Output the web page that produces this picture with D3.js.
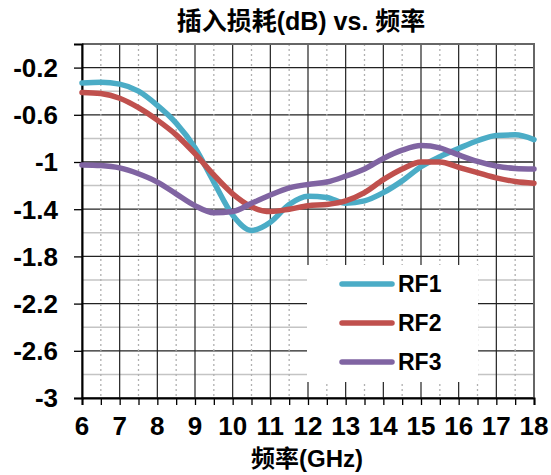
<!DOCTYPE html>
<html>
<head>
<meta charset="utf-8">
<script src="https://cdn.jsdelivr.net/npm/d3@7"></script>
<style>
  body { margin: 0; background: #fff; }
  svg text { font-family: "Liberation Sans", Arial, "Noto Sans CJK SC", sans-serif; font-weight: bold; fill: #000; }
</style>
</head>
<body>
<div id="chart"></div>
<script>
// Data
const freqs = [6, 6.5, 7, 7.5, 8, 8.5, 9, 9.5, 10, 10.5, 11, 11.5, 12, 12.5, 13, 13.5, 14, 14.5, 15, 15.5, 16, 16.5, 17, 17.5, 18];
const rf1 = [-0.33, -0.325, -0.34, -0.40, -0.52, -0.67, -0.88, -1.17, -1.45, -1.58, -1.51, -1.36, -1.29, -1.30, -1.35, -1.33, -1.26, -1.16, -1.04, -0.955, -0.885, -0.82, -0.775, -0.77, -0.81];
const rf2 = [-0.41, -0.42, -0.46, -0.54, -0.645, -0.77, -0.93, -1.11, -1.27, -1.38, -1.42, -1.40, -1.37, -1.36, -1.33, -1.26, -1.15, -1.06, -1.0, -1.0, -1.045, -1.09, -1.135, -1.165, -1.18];
const rf3 = [-1.025, -1.03, -1.05, -1.10, -1.17, -1.27, -1.37, -1.43, -1.42, -1.35, -1.28, -1.22, -1.19, -1.17, -1.12, -1.06, -0.97, -0.90, -0.86, -0.88, -0.94, -0.995, -1.035, -1.055, -1.06];
const seriesNames = ['RF1', 'RF2', 'RF3'];
const seriesColors = ['#4BACC6', '#C0504D', '#8064A2'];
const xTicks = [6, 7, 8, 9, 10, 11, 12, 13, 14, 15, 16, 17, 18];
const yTicks = [-0.2, -0.6, -1, -1.4, -1.8, -2.2, -2.6, -3];
const yMinor = [0, -0.4, -0.8, -1.2, -1.6, -2.0, -2.4, -2.8];

const width = 551, height = 475;
const margin = {left: 82, right: 17, top: 44, bottom: 77};

const svg = d3.select('#chart').append('svg')
    .attr('width', width)
    .attr('height', height);

const x = d3.scaleLinear().domain([6, 18]).range([margin.left, width - margin.right]);
const y = d3.scaleLinear().domain([-3, 0]).range([height - margin.bottom, margin.top]);

// Grid: horizontal
svg.append('g').selectAll('line').data(yMinor).join('line')
    .attr('x1', x(6)).attr('x2', x(18))
    .attr('y1', d => y(d)).attr('y2', d => y(d))
    .attr('stroke', '#c4c4c4').attr('stroke-width', 1.5);
svg.append('g').selectAll('line').data(yTicks).join('line')
    .attr('x1', x(6)).attr('x2', x(18))
    .attr('y1', d => y(d)).attr('y2', d => y(d))
    .attr('stroke', '#222').attr('stroke-width', 1.3);

// Grid: vertical
const halfTicks = d3.range(6.5, 18, 1);
svg.append('g').selectAll('line').data(halfTicks).join('line')
    .attr('x1', d => x(d)).attr('x2', d => x(d))
    .attr('y1', y(0)).attr('y2', y(-3))
    .attr('stroke', '#b0b0b0').attr('stroke-width', 1.3)
    .attr('stroke-dasharray', '2,3');
svg.append('g').selectAll('line').data(xTicks).join('line')
    .attr('x1', d => x(d)).attr('x2', d => x(d))
    .attr('y1', y(0)).attr('y2', y(-3))
    .attr('stroke', '#222').attr('stroke-width', 1.2);

// Plot border (top / right)
svg.append('path')
    .attr('d', `M${x(6)},${y(0)}H${x(18)}V${y(-3)}`)
    .attr('fill', 'none').attr('stroke', '#666').attr('stroke-width', 2);

// Axes
const xAxis = svg.append('g')
    .attr('transform', `translate(0,${y(-3)})`)
    .call(d3.axisBottom(x).tickValues(d3.range(6, 18.01, 0.5)).tickSize(7).tickFormat(''));
xAxis.select('.domain').attr('stroke', '#000').attr('stroke-width', 2);
xAxis.selectAll('.tick line').attr('stroke', '#000').attr('stroke-width', 1.3);

svg.append('g').selectAll('text').data(xTicks).join('text')
    .attr('x', d => x(d)).attr('y', 435)
    .attr('text-anchor', 'middle')
    .attr('font-size', '26px')
    .text(d => d);

const yAxis = svg.append('g')
    .attr('transform', `translate(${x(6)},0)`)
    .call(d3.axisLeft(y).tickValues(yTicks).tickSize(8).tickFormat(''));
yAxis.select('.domain').attr('stroke', '#000').attr('stroke-width', 2);
yAxis.selectAll('.tick line').attr('stroke', '#000').attr('stroke-width', 1.3);

svg.append('g').selectAll('text').data(yTicks).join('text')
    .attr('x', 58).attr('y', d => y(d))
    .attr('dy', '0.36em')
    .attr('text-anchor', 'end')
    .attr('font-size', '26px')
    .text(d => d);

// Series lines
const lineGen = d3.line()
    .x((d, i) => x(freqs[i]))
    .y(d => y(d))
    .curve(d3.curveMonotoneX);

[rf1, rf2, rf3].forEach((vals, i) => {
    svg.append('path')
        .datum(vals)
        .attr('d', lineGen)
        .attr('fill', 'none')
        .attr('stroke', seriesColors[i])
        .attr('stroke-width', 5.5)
        .attr('stroke-linejoin', 'round')
        .attr('stroke-linecap', 'round');
});

// Legend
const legend = svg.append('g');
legend.append('rect')
    .attr('x', 307).attr('y', 265)
    .attr('width', 171).attr('height', 117)
    .attr('fill', '#fff');
seriesNames.forEach((name, i) => {
    const ly = 284 + i * 39;
    legend.append('line')
        .attr('x1', 342).attr('x2', 392)
        .attr('y1', ly).attr('y2', ly)
        .attr('stroke', seriesColors[i])
        .attr('stroke-width', 5.5)
        .attr('stroke-linecap', 'round');
    legend.append('text')
        .attr('x', 398).attr('y', ly)
        .attr('dy', '0.36em')
        .attr('font-size', '23px')
        .text(name);
});

// Titles
svg.append('text')
    .attr('x', 301).attr('y', 30)
    .attr('text-anchor', 'middle')
    .attr('font-size', '25px')
    .text('插入损耗(dB) vs. 频率');

svg.append('text')
    .attr('x', 307).attr('y', 467)
    .attr('text-anchor', 'middle')
    .attr('font-size', '24px')
    .text('频率(GHz)');
</script>
</body>
</html>
